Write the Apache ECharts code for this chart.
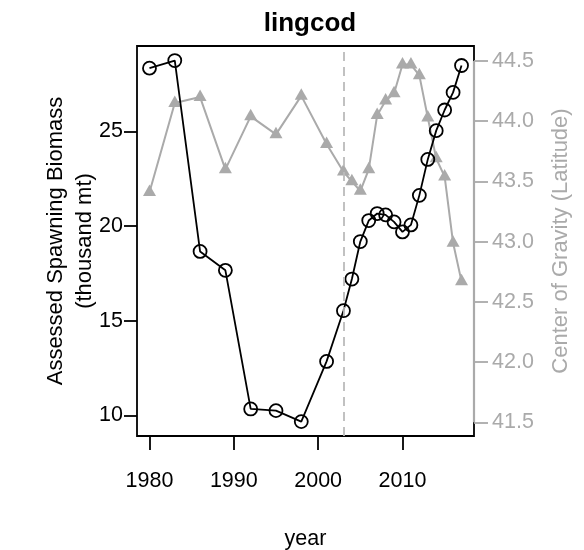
<!DOCTYPE html>
<html>
<head>
<meta charset="utf-8">
<script src="https://cdn.jsdelivr.net/npm/echarts@6/dist/echarts.min.js"></script>
<style>html,body{margin:0;padding:0;background:#fff;}#c{width:584px;height:550px;}</style>
</head>
<body>
<div id="c"></div>
<script>
const years = [1980,1983,1986,1989,1992,1995,1998,2001,2003,2004,2005,2006,2007,2008,2009,2010,2011,2012,2013,2014,2015,2016,2017];
const biomass = [28.35,28.75,18.67,17.67,10.35,10.26,9.68,12.86,15.54,17.21,19.19,20.30,20.67,20.60,20.23,19.70,20.07,21.63,23.53,25.05,26.14,27.07,28.49];
const latitude = [43.41,44.15,44.20,43.60,44.04,43.89,44.21,43.81,43.58,43.50,43.42,43.60,44.05,44.17,44.23,44.47,44.47,44.38,44.03,43.69,43.54,42.99,42.67];
const xTicks = [1980,1990,2000,2010];
const leftTicks = [10,15,20,25];
const rightTicks = [41.5,42.0,42.5,43.0,43.5,44.0,44.5];
const splitYear = 2003;

const xMin = 1978.52, xMax = 2018.48;
const FONT = "'Liberation Sans', Arial, Helvetica, sans-serif";
const GREY = '#aaaaaa';

const chart = echarts.init(document.getElementById('c'), null, {renderer:'canvas'});
chart.setOption({
  animation: false,
  backgroundColor: '#ffffff',
  title: {
    text: 'lingcod', left: 305, top: 6, textAlign: 'center',
    textStyle: {fontFamily: FONT, fontSize: 26, fontWeight: 'bold', color: '#000'}
  },
  grid: {
    left: 137, right: 110, top: 46, bottom: 114,
    outerBoundsMode: 'none', containLabel: false,
    show: true, borderColor: '#000', borderWidth: 1.8, backgroundColor: 'transparent'
  },
  xAxis: {
    type: 'value', min: xMin, max: xMax,
    name: 'year', nameLocation: 'middle', nameGap: 92, nameMoveOverlap: false,
    nameTextStyle: {fontFamily: FONT, fontSize: 21.5, color: '#000'},
    axisLine: {show: false},
    splitLine: {show: false},
    axisTick: {show: true, inside: false, length: 14, customValues: xTicks, lineStyle: {color: '#000', width: 1.8}},
    axisLabel: {customValues: xTicks, margin: 34, fontFamily: FONT, fontSize: 21.5, color: '#000', formatter: v => String(v)}
  },
  yAxis: [
    {
      type: 'value', min: 8.92, max: 29.52, position: 'left',
      name: 'Assessed Spawning Biomass\n(thousand mt)', nameLocation: 'middle', nameGap: 38, nameRotate: 90,
      nameMoveOverlap: false,
      nameTextStyle: {fontFamily: FONT, fontSize: 22, color: '#000', lineHeight: 29},
      axisLine: {show: false}, splitLine: {show: false},
      axisTick: {show: true, length: 13, customValues: leftTicks, lineStyle: {color: '#000', width: 1.8}},
      axisLabel: {customValues: leftTicks, margin: 14, fontFamily: FONT, fontSize: 21.5, color: '#000', formatter: v => String(v)}
    },
    {
      type: 'value', min: 41.386, max: 44.624, position: 'right',
      name: 'Center of Gravity (Latitude)', nameLocation: 'middle', nameGap: 76, nameRotate: 90,
      nameMoveOverlap: false,
      nameTextStyle: {fontFamily: FONT, fontSize: 22, color: GREY},
      axisLine: {show: false}, splitLine: {show: false},
      axisTick: {show: true, length: 14, customValues: rightTicks, lineStyle: {color: GREY, width: 1.8}},
      axisLabel: {customValues: rightTicks, margin: 18, fontFamily: FONT, fontSize: 21.5, color: GREY, formatter: v => v.toFixed(1)}
    }
  ],
  series: [
    {
      type: 'line', yAxisIndex: 1, z: 2,
      data: years.map((y, i) => [y, latitude[i]]),
      symbol: 'triangle', symbolSize: [13, 11.5], symbolOffset: [0, -1.9],
      lineStyle: {color: GREY, width: 2},
      itemStyle: {color: GREY, borderWidth: 0},
      markLine: {
        silent: true, symbol: 'none', label: {show: false},
        lineStyle: {color: GREY, width: 2.2, type: 'solid'},
        data: [[{coord: [xMax, rightTicks[0]]}, {coord: [xMax, rightTicks[rightTicks.length - 1]]}]]
      }
    },
    {
      type: 'line', yAxisIndex: 0, z: 3,
      data: years.map((y, i) => [y, biomass[i]]),
      symbol: 'circle', symbolSize: 13,
      lineStyle: {color: '#000', width: 1.8},
      itemStyle: {color: 'rgba(0,0,0,0)', borderColor: '#000', borderWidth: 1.8},
      markLine: {
        silent: true, symbol: 'none', label: {show: false},
        lineStyle: {color: '#bbbbbb', width: 1.8, type: [9, 6]},
        data: [{xAxis: splitYear}]
      }
    }
  ]
});
</script>
</body>
</html>
